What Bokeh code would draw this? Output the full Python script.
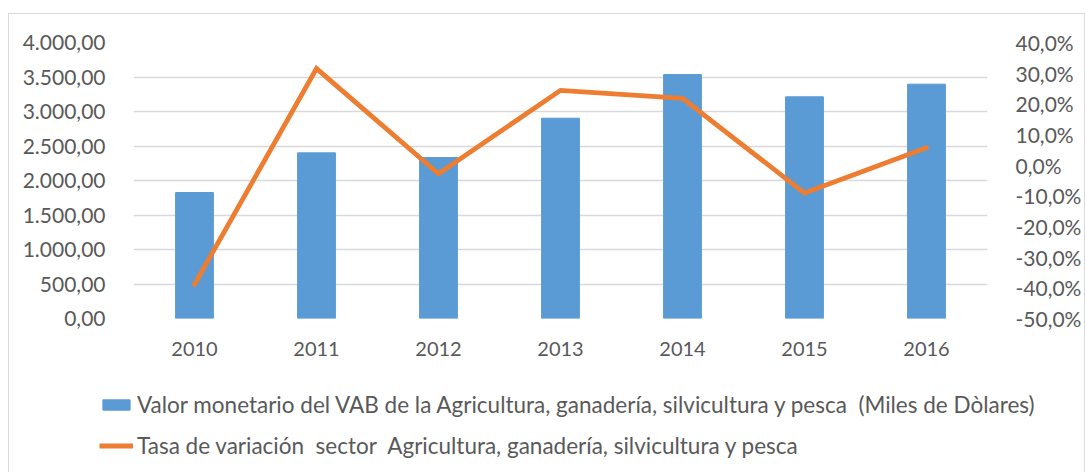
from bokeh.plotting import figure
from bokeh.layouts import column
from bokeh.models import (Range1d, LinearAxis, FixedTicker, FactorRange, Legend, LegendItem,
                          ColumnDataSource)
from bokeh.embed import file_html
from bokeh.resources import INLINE

years = ["2010", "2011", "2012", "2013", "2014", "2015", "2016"]
vab = [1826, 2401, 2333, 2903, 3536, 3213, 3396]
tasa = [-38.9, 31.5, -2.8, 24.4, 21.8, -9.1, 5.7]

left_ticks = [0, 500, 1000, 1500, 2000, 2500, 3000, 3500, 4000]
left_labels = ["0,00", "500,00", "1.000,00", "1.500,00", "2.000,00", "2.500,00",
               "3.000,00", "3.500,00", "4.000,00"]
right_ticks = [-50, -40, -30, -20, -10, 0, 10, 20, 30, 40]
right_labels = ["-50,0%", "-40,0%", "-30,0%", "-20,0%", "-10,0%", "0,0%",
                "10,0%", "20,0%", "30,0%", "40,0%"]

label_bar = "Valor monetario del VAB de la Agricultura, ganadería, silvicultura y pesca  (Miles de Dòlares)"
label_line = "Tasa de variación  sector  Agricultura, ganadería, silvicultura y pesca"

FONT = "Lato"
TXT = "#595959"
BLUE = "#5B9BD5"
ORANGE = "#ED7D31"
GRID = "#d9d9d9"

src = ColumnDataSource(dict(x=years, vab=vab, tasa=tasa))

p = figure(width=1075, height=358, x_range=FactorRange(*years, range_padding=0),
           y_range=Range1d(0, 4000), output_backend="svg", toolbar_location=None,
           min_border_left=124, min_border_right=94, min_border_top=28, min_border_bottom=54)
p.frame_align = False
p.outline_line_color = None
p.extra_y_ranges = {"pct": Range1d(-50, 40)}

bars = p.vbar(x="x", top="vab", width=0.31, source=src, fill_color=BLUE, line_color=BLUE)
line = p.line(x="x", y="tasa", source=src, y_range_name="pct", line_color=ORANGE,
              line_width=4.8, line_cap="round", line_join="miter")

p.xgrid.grid_line_color = None
p.ygrid.grid_line_color = GRID
p.ygrid.grid_line_width = 1.5
p.ygrid.ticker = FixedTicker(ticks=left_ticks)


def style_axis(a, fs):
    a.axis_line_color = None
    a.major_tick_line_color = None
    a.minor_tick_line_color = None
    a.major_label_text_font = FONT
    a.major_label_text_font_size = fs
    a.major_label_text_color = TXT


ax = p.xaxis[0]
style_axis(ax, "20px")
ax.major_label_standoff = 17

ay = p.yaxis[0]
ay.ticker = FixedTicker(ticks=left_ticks)
ay.major_label_overrides = {t: l for t, l in zip(left_ticks, left_labels)}
style_axis(ay, "21px")
ay.major_label_standoff = 22

ry = LinearAxis(y_range_name="pct", ticker=FixedTicker(ticks=right_ticks))
ry.major_label_overrides = {t: l for t, l in zip(right_ticks, right_labels)}
style_axis(ry, "21px")
ry.major_label_standoff = 22
p.add_layout(ry, "right")

# legend panel below the chart (its renderers share the data but sit outside its view)
q = figure(width=1075, height=100, x_range=p.x_range, y_range=Range1d(10000, 10001),
           output_backend="svg", toolbar_location=None,
           x_axis_location=None, y_axis_location=None,
           min_border_left=0, min_border_right=0, min_border_top=0, min_border_bottom=0)
q.frame_align = False
q.grid.grid_line_color = None
q.outline_line_color = None
lb = q.vbar(x="x", top="vab", width=0.31, source=src, fill_color=BLUE, line_color=BLUE)
ll = q.line(x="x", y="vab", source=src, line_color=ORANGE, line_width=4.8, line_cap="butt")

legend = Legend(items=[LegendItem(label=label_bar, renderers=[lb]),
                       LegendItem(label=label_line, renderers=[ll])],
                location=(90, 13), orientation="vertical")
legend.glyph_width = 34
legend.glyph_height = 13
legend.label_standoff = 4
legend.label_text_font = FONT
legend.label_text_font_size = "22.5px"
legend.label_text_color = TXT
legend.spacing = 14
legend.padding = 0
legend.margin = 0
legend.border_line_alpha = 0
legend.background_fill_alpha = 0
q.add_layout(legend, "center")

layout = column(p, q, spacing=0)
layout.margin = (13, 0, 0, 8)
layout.styles = {"border": "1px solid #d9d9d9"}

open("out.html", "w").write(file_html(layout, INLINE))
